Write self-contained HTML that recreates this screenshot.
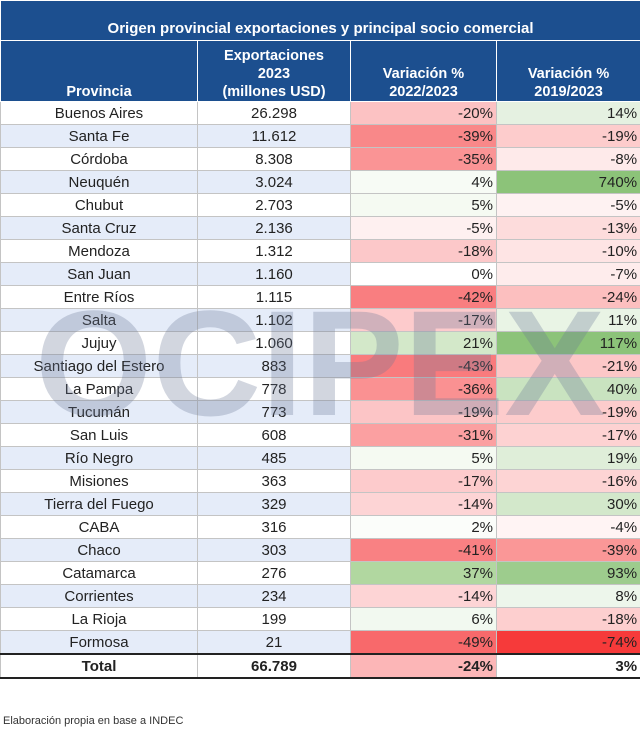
<!DOCTYPE html>
<html><head><meta charset="utf-8"><style>
body{margin:0;width:640px;height:730px;background:#fff;font-family:"Liberation Sans",Arial,sans-serif;position:relative;overflow:hidden}
#t{position:absolute;left:0;top:0;width:640px;border-collapse:collapse;table-layout:fixed}
#t td{padding:0;font-size:15px;color:#222;height:22px;border:1px solid #c4c4c4;text-align:center;overflow:hidden;white-space:nowrap}
#t td.n{text-align:right;padding-right:3px}
.ti td{background:#1c4f8f!important;color:#fff!important;font-weight:bold;height:36px!important;border:1px solid #fff!important;vertical-align:bottom;padding-bottom:3px!important}
.hd td{background:#1c4f8f!important;color:#fff!important;font-weight:bold;font-size:14.5px!important;height:60px!important;border:1px solid #fff!important;vertical-align:bottom;line-height:18px}
.tot td{font-weight:bold;border-top:2px solid #222!important;border-bottom:2px solid #222!important}
#wm{position:absolute;left:0;top:0}
#ft{position:absolute;left:3px;top:715px;font-size:11px;color:#333}
</style></head><body>
<table id="t">
<colgroup><col style="width:197px"><col style="width:153px"><col style="width:146px"><col style="width:144px"></colgroup>
<tr class="ti"><td colspan="4">Origen provincial exportaciones y principal socio comercial</td></tr>
<tr class="hd"><td>Provincia</td><td>Exportaciones<br>2023<br>(millones USD)</td><td>Variación %<br>2022/2023</td><td>Variación %<br>2019/2023</td></tr>
<tbody id="b"></tbody>
</table>
<svg id="wm" width="640" height="730"><text x="35" y="415" font-family="Liberation Sans" font-weight="bold" font-size="150" textLength="570" lengthAdjust="spacingAndGlyphs" fill="rgba(105,120,150,0.3)">OCIPEX</text></svg>
<div id="ft">Elaboración propia en base a INDEC</div>
<script>
var d=[["Buenos Aires","26.298",-20,14],["Santa Fe","11.612",-39,-19],["Córdoba","8.308",-35,-8],["Neuquén","3.024",4,740],["Chubut","2.703",5,-5],["Santa Cruz","2.136",-5,-13],["Mendoza","1.312",-18,-10],["San Juan","1.160",0,-7],["Entre Ríos","1.115",-42,-24],["Salta","1.102",-17,11],["Jujuy","1.060",21,117],["Santiago del Estero","883",-43,-21],["La Pampa","778",-36,40],["Tucumán","773",-19,-19],["San Luis","608",-31,-17],["Río Negro","485",5,19],["Misiones","363",-17,-16],["Tierra del Fuego","329",-14,30],["CABA","316",2,-4],["Chaco","303",-41,-39],["Catamarca","276",37,93],["Corrientes","234",-14,8],["La Rioja","199",6,-18],["Formosa","21",-49,-74]];
function mix(c,t){t=Math.max(0,Math.min(1,t));return "rgb("+c.map(function(x){return Math.round(255-(255-x)*t)}).join(",")+")"}
function c3(v){return v<0?mix([248,105,107],-v/49):mix([169,211,150],v/41)}
function c4(v){return v<0?mix([246,58,58],-v/74):mix([140,195,121],Math.pow(Math.min(1,v/117),0.7))}
var h="";
d.forEach(function(r,i){var bg=i%2?"#e5ecf9":"#fff";
h+='<tr><td style="background:'+bg+'">'+r[0]+'</td><td style="background:'+bg+'">'+r[1]+'</td><td class="n" style="background:'+c3(r[2])+'">'+r[2]+'%</td><td class="n" style="background:'+c4(r[3])+'">'+r[3]+'%</td></tr>';});
h+='<tr class="tot"><td>Total</td><td>66.789</td><td class="n" style="background:'+c3(-24)+'">-24%</td><td class="n">3%</td></tr>';
document.getElementById("b").innerHTML=h;
</script>
</body></html>
